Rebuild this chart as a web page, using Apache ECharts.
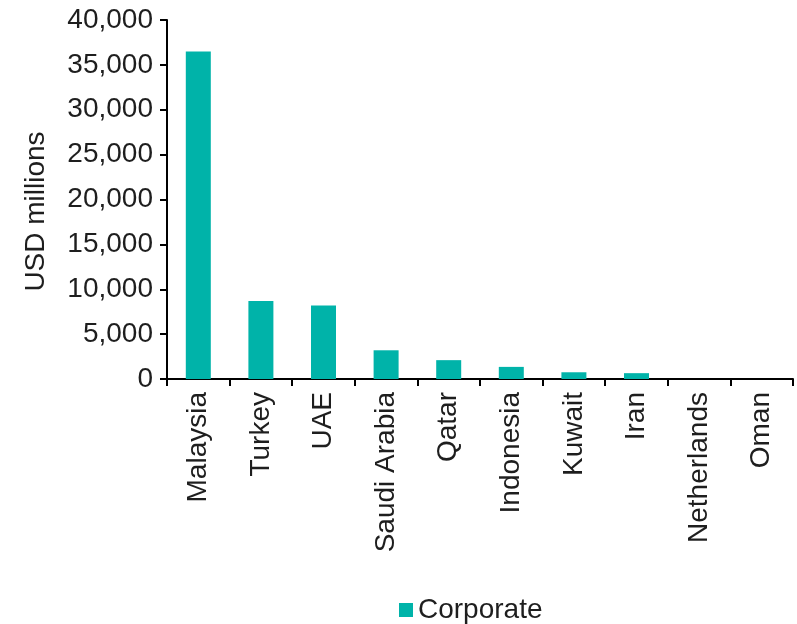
<!DOCTYPE html>
<html>
<head>
<meta charset="utf-8">
<script src="https://cdn.jsdelivr.net/npm/echarts@6/dist/echarts.min.js"></script>
<style>
html,body{margin:0;padding:0;background:#fff;}
#c{width:797px;height:624px;}
</style>
</head>
<body>
<div id="c"></div>
<script>
const categories = ["Malaysia","Turkey","UAE","Saudi Arabia","Qatar","Indonesia","Kuwait","Iran","Netherlands","Oman"];
const corporate = [36500, 8700, 8200, 3200, 2100, 1350, 750, 650, 0, 0];
const seriesName = "Corporate";
const yAxisName = "USD millions";

const FONT = "Liberation Sans, Arial, sans-serif";
const TXT = "#1e1e1e";
const FS = 28;
const chart = echarts.init(document.getElementById('c'), null, {renderer:'canvas'});
chart.setOption({
  animation:false,
  backgroundColor:'#fff',
  textStyle:{fontFamily:FONT},
  grid:{left:167, right:4, top:20, bottom:245, containLabel:false},
  legend:{
    data:[seriesName], left:394, top:591,
    icon:'rect', itemWidth:14, itemHeight:14, itemGap:11,
    textStyle:{fontSize:FS, color:TXT, fontFamily:FONT}
  },
  xAxis:{
    type:'category', data:categories,
    axisLine:{show:true, lineStyle:{color:'#000', width:2}},
    axisTick:{show:true, length:7, lineStyle:{color:'#000', width:2}},
    axisLabel:{rotate:90, margin:13, fontSize:FS, color:TXT, fontFamily:FONT, interval:0}
  },
  yAxis:{
    type:'value', min:0, max:40000, interval:5000,
    name:yAxisName, nameLocation:'middle', nameGap:117,
    nameTextStyle:{fontSize:FS, color:TXT, fontFamily:FONT, padding:[0,24,0,0]},
    splitLine:{show:false},
    axisLine:{show:true, lineStyle:{color:'#000', width:2}},
    axisTick:{show:true, length:7, lineStyle:{color:'#000', width:2}},
    axisLabel:{margin:14, fontSize:FS, color:TXT, fontFamily:FONT,
      formatter:v=>v.toLocaleString('en-US')}
  },
  series:[{
    name:seriesName, type:'bar', data:corporate, barWidth:25,
    itemStyle:{color:'#00b3a9'}
  }]
});
</script>
</body>
</html>
